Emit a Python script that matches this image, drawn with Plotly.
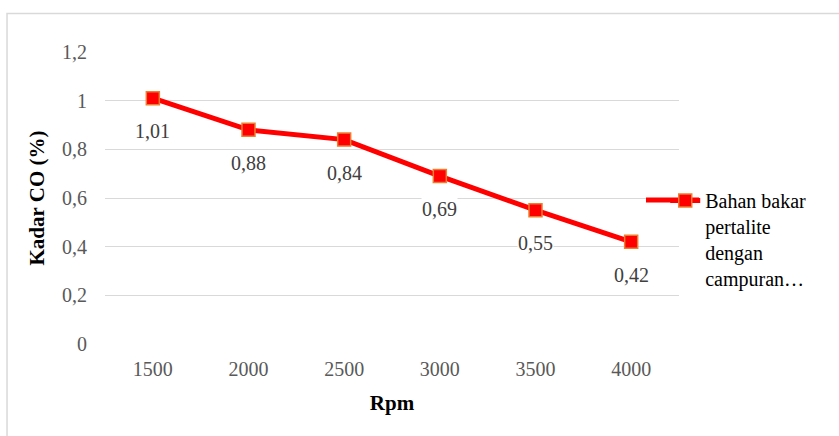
import plotly.graph_objects as go

# CO concentration (%) at each engine speed
rpm = [1500, 2000, 2500, 3000, 3500, 4000]
kadar_co = [1.01, 0.88, 0.84, 0.69, 0.55, 0.42]
series_name = "Bahan bakar<br>pertalite<br>dengan<br>campuran…"
y_ticks = [0, 0.2, 0.4, 0.6, 0.8, 1.0, 1.2]

SERIF = "Liberation Serif, Times New Roman, serif"
LINE_RED = "#FF0000"

fig = go.Figure()
fig.add_trace(go.Scatter(
    x=rpm, y=kadar_co, mode="lines+markers", name=series_name,
    line=dict(color=LINE_RED, width=5),
    marker=dict(symbol="square", size=13, color=LINE_RED,
                line=dict(color="#ED7D31", width=1.5)),
    cliponaxis=False,
))

# value labels below each point, on a white box that breaks the gridlines
for x, v in zip(rpm, kadar_co):
    fig.add_annotation(
        x=x, y=v, text=f"{v:.2f}".replace(".", ","), showarrow=False,
        yanchor="middle", yshift=-33, bgcolor="white", borderpad=0,
        font=dict(family=SERIF, size=20, color="#404040"),
    )

# chart-area frame
fig.add_shape(type="rect", xref="paper", yref="paper",
              x0=-0.1707, x1=1.3, y0=-0.36, y1=1.1318,
              line=dict(color="#D9D9D9", width=1.5), fillcolor="rgba(0,0,0,0)",
              layer="below")

# longer legend key line, behind the legend's own symbol
fig.add_shape(type="line", xref="paper", yref="paper",
              x0=0.9425, x1=1.035, y0=0.493, y1=0.493,
              line=dict(color=LINE_RED, width=5), layer="above")

fig.update_layout(
    width=839, height=436,
    margin=dict(l=105, r=160, t=52, b=92),
    paper_bgcolor="white", plot_bgcolor="white",
    separators=", ",
    font=dict(family=SERIF, color="#595959", size=20),
    showlegend=True,
    legend=dict(x=0.976, y=0.558, xanchor="left", yanchor="top", valign="top",
                font=dict(family=SERIF, size=20, color="#000000"),
                bgcolor="rgba(0,0,0,0)", itemwidth=30),
    xaxis=dict(
        range=[1250, 4250], tickvals=rpm, tickformat="d",
        showgrid=False, showline=False, zeroline=False,
        ticks="", ticklabelstandoff=11,
        tickfont=dict(family=SERIF, size=20, color="#595959"),
        title=dict(text="<b>Rpm</b>", standoff=16,
                   font=dict(family=SERIF, size=21, color="#000000")),
    ),
    yaxis=dict(
        range=[0, 1.2], tickvals=y_ticks, showgrid=True,
        gridcolor="#D9D9D9", gridwidth=1, zeroline=False, showline=False,
        ticks="", ticklabelstandoff=17,
        tickfont=dict(family=SERIF, size=20, color="#595959"),
        title=dict(text="<b>Kadar CO (%)</b>", standoff=11,
                   font=dict(family=SERIF, size=21, color="#000000")),
    ),
)

fig.write_html("out.html")
